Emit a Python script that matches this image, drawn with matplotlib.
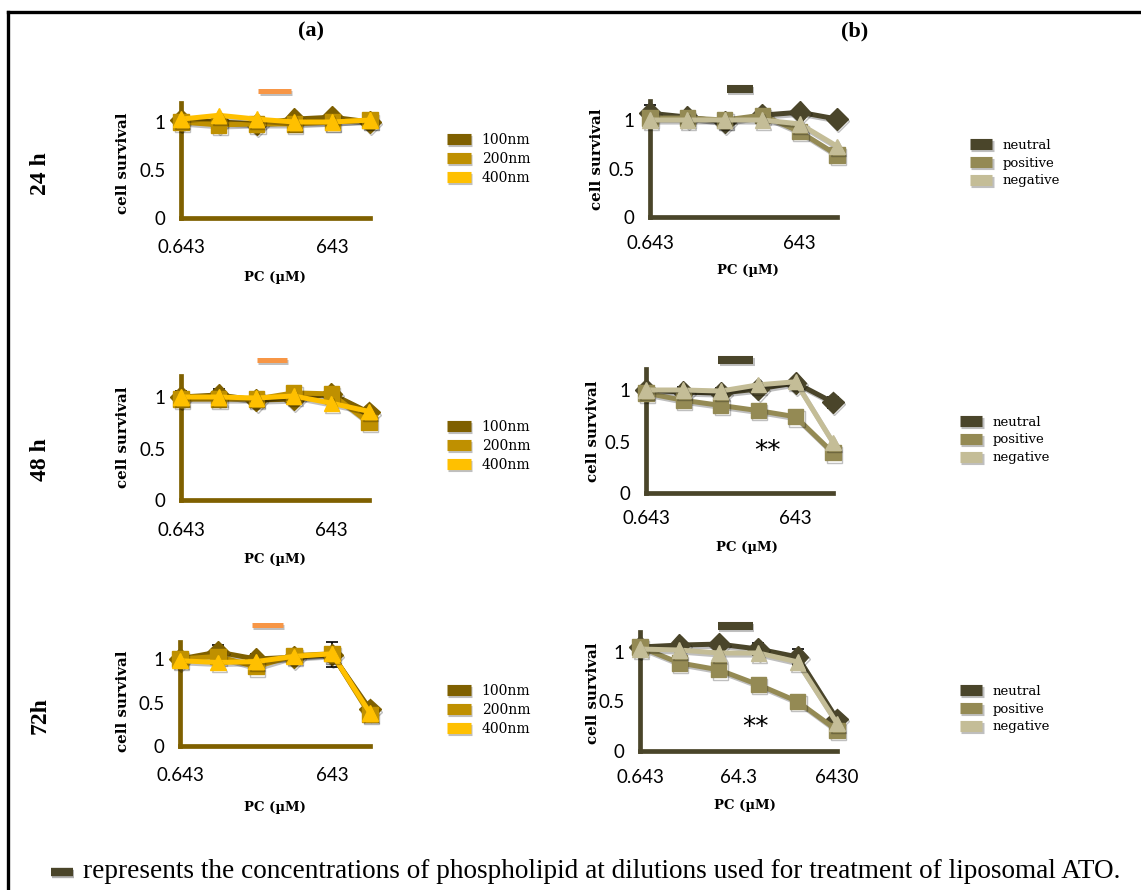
import matplotlib
matplotlib.use("Agg")
import matplotlib.pyplot as plt
import matplotlib.patheffects as pe
from matplotlib.lines import Line2D

W, H = 1141, 890

# concentration steps (categorical positions on the chart)
steps = list(range(6))

# (a) liposome size series
a_names = ["100nm", "200nm", "400nm"]
a_colors = ["#7F6000", "#BF9000", "#FFC000"]
a_markers = ["D", "s", "^"]

a24_100 = [1.02, 1.00, 0.98, 1.03, 1.05, 1.00]
a24_200 = [1.00, 0.97, 0.98, 0.98, 1.00, 1.02]
a24_400 = [1.03, 1.07, 1.03, 1.00, 1.00, 1.02]
a24_err = [0.03, 0.02, 0.03, 0.03, 0.03, 0.03]

a48_100 = [1.00, 1.02, 0.97, 0.98, 1.03, 0.85]
a48_200 = [0.98, 0.98, 0.98, 1.04, 1.03, 0.75]
a48_400 = [1.00, 1.00, 0.99, 1.01, 0.94, 0.86]
a48_err = [0.06, 0.06, 0.05, 0.05, 0.03, 0.03]

a72_100 = [1.00, 1.08, 1.00, 1.02, 1.05, 0.42]
a72_200 = [1.00, 1.03, 0.91, 1.04, 1.06, 0.36]
a72_400 = [0.98, 0.96, 0.97, 1.03, 1.06, 0.38]
a72_err = [0.03, 0.08, 0.06, 0.08, 0.14, 0.03]

# (b) surface charge series
b_names = ["neutral", "positive", "negative"]
b_colors = ["#4A452A", "#948A54", "#C4BD97"]
b_markers = ["D", "s", "^"]

b24_neu = [1.07, 1.03, 0.98, 1.05, 1.08, 1.01]
b24_pos = [1.02, 1.02, 1.00, 1.05, 0.88, 0.64]
b24_neg = [1.00, 1.00, 1.00, 1.00, 0.96, 0.73]
b24_err = [0.08, 0.05, 0.03, 0.03, 0.03, 0.03]

b48_neu = [1.00, 0.98, 0.97, 1.01, 1.07, 0.88]
b48_pos = [0.97, 0.90, 0.85, 0.80, 0.74, 0.39]
b48_neg = [1.00, 1.00, 0.99, 1.05, 1.08, 0.49]
b48_err = [0.03, 0.05, 0.05, 0.03, 0.03, 0.05]

b72_neu = [1.05, 1.07, 1.08, 1.03, 0.95, 0.32]
b72_pos = [1.05, 0.89, 0.82, 0.67, 0.50, 0.21]
b72_neg = [1.03, 1.02, 0.99, 0.99, 0.90, 0.28]
b72_err = [0.05, 0.03, 0.03, 0.06, 0.08, 0.03]

tick_pos_std = [0, 4]
tick_lab_std = ["0.643", "643"]
tick_pos_72b = [0, 2.5, 5]
tick_lab_72b = ["0.643", "64.3", "6430"]

# phospholipid range used for liposomal ATO (in step units)
a24_range = [2.05, 2.9]
a48_range = [2.02, 2.82]
a72_range = [1.89, 2.7]
b24_range = [2.06, 2.75]
b48_range = [1.93, 2.87]
b72_range = [1.98, 2.87]

fig = plt.figure(figsize=(W / 100, H / 100), dpi=100)

SERIF = "DejaVu Serif"
SANS = "Lato"


def fx(px):
    return px / W


def fy(py):
    return 1 - py / H


def panel(geom, series, names, colors, markers, err, ticks, labels, rng,
          range_color, range_y, range_lw, spine_color, ylab, xlab, leg, leg_fs,
          stars=None, xpad=14):
    x0, x5, y0, y1 = geom
    ax = fig.add_axes([fx(x0), fy(y0), (x5 - x0) / W, 1.2 * (y0 - y1) / H])
    ax.set_xlim(0, 5)
    ax.set_ylim(0, 1.2)
    ax.patch.set_alpha(0)
    for s in ["top", "right"]:
        ax.spines[s].set_visible(False)
    for s in ["left", "bottom"]:
        ax.spines[s].set_color(spine_color)
        ax.spines[s].set_linewidth(3.4)
    ax.set_yticks([0, 0.5, 1])
    ax.set_yticklabels(["0", "0.5", "1"])
    ax.set_xticks(ticks)
    ax.set_xticklabels(labels)
    ax.tick_params(axis="y", length=0, pad=11, labelsize=13.5)
    ax.tick_params(axis="x", length=0, pad=xpad, labelsize=13.5)
    for t in ax.get_xticklabels() + ax.get_yticklabels():
        t.set_fontfamily(SANS)

    ax.errorbar(steps, series[0], yerr=err, fmt="none", ecolor="black",
                elinewidth=1.2, capsize=4, capthick=1.2, zorder=2, clip_on=False)
    shadow = [pe.SimpleLineShadow(offset=(1, -1.5), alpha=0.25), pe.Normal()]
    for i, (vals, c, m) in enumerate(zip(series, colors, markers)):
        ax.plot(steps, vals, color=c, lw=3.6, marker=m, markersize=11,
                markeredgecolor=c, zorder=3 + i, clip_on=False,
                path_effects=shadow)

    ax.plot(rng, [range_y, range_y], color=range_color, lw=range_lw,
            solid_capstyle="butt", clip_on=False, path_effects=shadow)

    xl, yl = ylab
    fig.text(fx(xl), fy(yl), "cell survival", rotation=90, ha="center",
             va="center", fontsize=10.8, fontweight="bold", family=SERIF)
    xl, yl = xlab
    fig.text(fx(xl), fy(yl), "PC (µM)", ha="center", va="center",
             fontsize=9.5, fontweight="bold", family=SERIF)

    handles = [Line2D([], [], color=c, lw=8, solid_capstyle="butt",
                      path_effects=shadow) for c in colors]
    lx, ly = leg
    ax.legend(handles, names, loc="center left",
              bbox_to_anchor=(fx(lx), fy(ly)), bbox_transform=fig.transFigure,
              frameon=False, borderpad=0, borderaxespad=0, handlelength=1.7,
              handletextpad=0.8, labelspacing=0.35,
              prop={"family": SERIF, "size": leg_fs})
    if stars is not None:
        fig.text(fx(stars[0]), fy(stars[1]), "**", ha="center", va="center",
                 fontsize=19, family="DejaVu Sans")
    return ax


# column (a)
panel((181, 370, 218, 122), [a24_100, a24_200, a24_400], a_names, a_colors,
      a_markers, a24_err, tick_pos_std, tick_lab_std, a24_range, "#F79646",
      1.32, 3.6, "#7F6000", (123, 163), (275, 278), (447, 159), 10, xpad=15)
panel((181, 369, 500, 397), [a48_100, a48_200, a48_400], a_names, a_colors,
      a_markers, a48_err, tick_pos_std, tick_lab_std, a48_range, "#F79646",
      1.36, 3.6, "#7F6000", (123, 437), (275, 560), (447, 446), 10, xpad=16)
panel((180, 370, 746, 659), [a72_100, a72_200, a72_400], a_names, a_colors,
      a_markers, a72_err, tick_pos_std, tick_lab_std, a72_range, "#F79646",
      1.39, 3.6, "#7F6000", (123, 701), (275, 807), (447, 710), 10, xpad=15)

# column (b)
panel((650, 837, 217, 120), [b24_neu, b24_pos, b24_neg], b_names, b_colors,
      b_markers, b24_err, tick_pos_std, tick_lab_std, b24_range, "#4A452A",
      1.32, 5.8, "#4A452A", (597, 159), (748, 270), (970, 163), 9.5, xpad=13)
panel((646, 833, 493, 390), [b48_neu, b48_pos, b48_neg], b_names, b_colors,
      b_markers, b48_err, tick_pos_std, tick_lab_std, b48_range, "#4A452A",
      1.29, 5.8, "#4A452A", (593, 431), (747, 547), (960, 440), 9.5,
      stars=(767, 452), xpad=12)
panel((640, 837, 751, 652), [b72_neu, b72_pos, b72_neg], b_names, b_colors,
      b_markers, b72_err, tick_pos_72b, tick_lab_72b, b72_range, "#4A452A",
      1.26, 5.8, "#4A452A", (593, 693), (745, 805), (960, 709), 9.5,
      stars=(755, 728), xpad=13)

# headers and row labels
fig.text(fx(311), fy(31), "(a)", ha="center", va="center", fontsize=16,
         fontweight="bold", family="Liberation Serif")
fig.text(fx(855), fy(31), "(b)", ha="center", va="center", fontsize=16,
         fontweight="bold", family="Liberation Serif")
for lab, y in [("24 h", 174), ("48 h", 460), ("72h", 716)]:
    fig.text(fx(40), fy(y), lab, rotation=90, ha="center", va="center",
             fontsize=17, fontweight="bold", family="Liberation Serif")

# frame lines
fig.add_artist(Line2D([fx(8), fx(8)], [fy(12), 0], color="black", lw=2.4))
fig.add_artist(Line2D([fx(8), 1], [fy(12), fy(12)], color="black", lw=2.4))

# footnote
fig.add_artist(Line2D([fx(51), fx(73)], [fy(872), fy(872)], color="#4A452A",
                      lw=6, solid_capstyle="butt",
                      path_effects=[pe.SimpleLineShadow(offset=(1, -1.5), alpha=0.3),
                                    pe.Normal()]))
fig.text(fx(83), fy(872), "represents the concentrations of phospholipid at "
         "dilutions used for treatment of liposomal ATO.", ha="left",
         va="center", fontsize=19.6, family="Liberation Serif")

fig.savefig("out.png", dpi=100)
